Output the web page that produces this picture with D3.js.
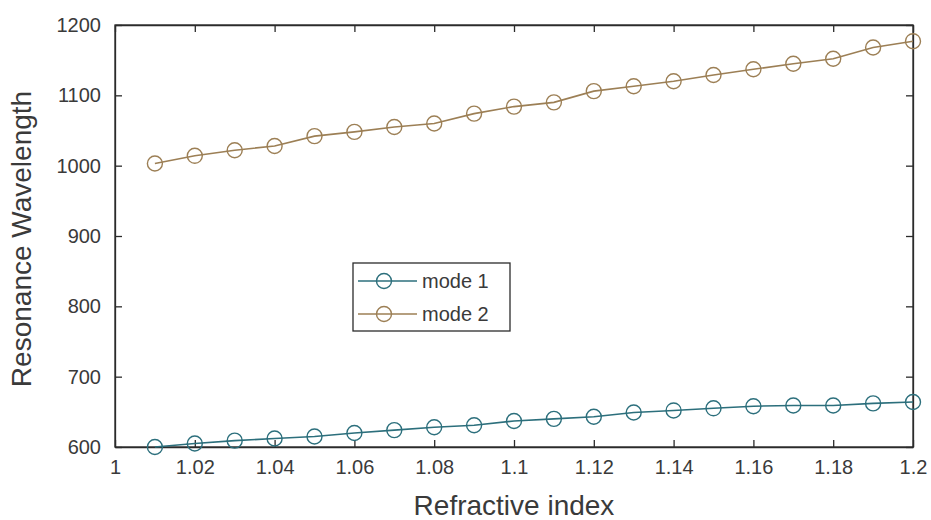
<!DOCTYPE html>
<html>
<head>
<meta charset="utf-8">
<script src="https://cdn.jsdelivr.net/npm/d3@7"></script>
<style>
  html, body { margin: 0; padding: 0; background: #fff; }
  svg { display: block; font-family: "Liberation Sans", Arial, sans-serif; }
</style>
</head>
<body>
<svg id="chart" width="931" height="520"></svg>
<script>
const refractiveIndex = [1.01,1.02,1.03,1.04,1.05,1.06,1.07,1.08,1.09,1.10,1.11,1.12,1.13,1.14,1.15,1.16,1.17,1.18,1.19,1.20];
const mode1 = [600,605,609,612,615,620,624,628,631,637,640,643,649,652,655,658,659,659,662,664];
const mode2 = [1003,1014,1022,1028,1042,1048,1055,1060,1074,1084,1090,1106,1113,1120,1129,1137,1145,1152,1168,1177];
const xTicks = [1,1.02,1.04,1.06,1.08,1.1,1.12,1.14,1.16,1.18,1.2];
const yTicks = [600,700,800,900,1000,1100,1200];
const seriesNames = ["mode 1", "mode 2"];
const seriesColors = ["#2c6f7c", "#9c7f55"];

const svg = d3.select("#chart");
const m = {left: 115, right: 913, top: 25, bottom: 447};
const x = d3.scaleLinear().domain([1, 1.2]).range([m.left, m.right]);
const y = d3.scaleLinear().domain([600, 1200]).range([m.bottom, m.top]);
const axisColor = "#2b2b2b";
const textColor = "#3a3a3a";

// box
svg.append("rect").attr("x", m.left).attr("y", m.top)
  .attr("width", m.right - m.left).attr("height", m.bottom - m.top)
  .attr("fill", "#fff").attr("stroke", axisColor).attr("stroke-width", 1.3);

const fmtX = d => String(+d.toFixed(2));
const fmtY = d3.format("d");
// bottom axis
const gx = svg.append("g").attr("transform", `translate(0,${m.bottom})`)
  .call(d3.axisBottom(x).tickValues(xTicks).tickSizeInner(-7).tickSizeOuter(0).tickPadding(13).tickFormat(fmtX));
// top axis ticks
const gxt = svg.append("g").attr("transform", `translate(0,${m.top})`)
  .call(d3.axisTop(x).tickValues(xTicks).tickSizeInner(-7).tickSizeOuter(0).tickFormat(""));
// left axis
const gy = svg.append("g").attr("transform", `translate(${m.left},0)`)
  .call(d3.axisLeft(y).tickValues(yTicks).tickSizeInner(-7).tickSizeOuter(0).tickPadding(14).tickFormat(fmtY));
// right axis ticks
const gyr = svg.append("g").attr("transform", `translate(${m.right},0)`)
  .call(d3.axisRight(y).tickValues(yTicks).tickSizeInner(-7).tickSizeOuter(0).tickFormat(""));

[gx, gxt, gy, gyr].forEach(g => {
  g.select(".domain").attr("stroke", axisColor).attr("stroke-width", 1.3);
  g.selectAll(".tick line").attr("stroke", axisColor).attr("stroke-width", 1.3);
  g.selectAll(".tick text").attr("fill", textColor).style("font-size", "20px");
});

// axis titles
svg.append("text").attr("x", (m.left + m.right) / 2).attr("y", 515)
  .attr("text-anchor", "middle").attr("fill", textColor).style("font-size", "28px")
  .text("Refractive index");
svg.append("text").attr("transform", `translate(31,${(m.top + m.bottom) / 2 + 3}) rotate(-90)`)
  .attr("text-anchor", "middle").attr("fill", textColor).style("font-size", "28px")
  .text("Resonance Wavelength");

const line = d3.line().x((d, i) => x(refractiveIndex[i])).y(d => y(d));
const allSeries = [mode1, mode2];
allSeries.forEach((s, k) => {
  const g = svg.append("g");
  g.append("path").datum(s).attr("d", line).attr("fill", "none")
    .attr("stroke", seriesColors[k]).attr("stroke-width", 1.6);
  g.selectAll("circle").data(s).enter().append("circle")
    .attr("cx", (d, i) => x(refractiveIndex[i])).attr("cy", d => y(d)).attr("r", 7.5)
    .attr("fill", "none").attr("stroke", seriesColors[k]).attr("stroke-width", 1.4);
});

// legend
const lg = svg.append("g");
lg.append("rect").attr("x", 353).attr("y", 263).attr("width", 157).attr("height", 68)
  .attr("fill", "#fff").attr("stroke", axisColor).attr("stroke-width", 1.3);
seriesNames.forEach((name, k) => {
  const yy = 281 + k * 33;
  lg.append("line").attr("x1", 358).attr("x2", 417).attr("y1", yy).attr("y2", yy)
    .attr("stroke", seriesColors[k]).attr("stroke-width", 1.6);
  lg.append("circle").attr("cx", 384).attr("cy", yy).attr("r", 7.5)
    .attr("fill", "none").attr("stroke", seriesColors[k]).attr("stroke-width", 1.4);
  lg.append("text").attr("x", 422).attr("y", yy + 7).attr("fill", textColor)
    .style("font-size", "20px").text(name);
});
</script>
</body>
</html>
